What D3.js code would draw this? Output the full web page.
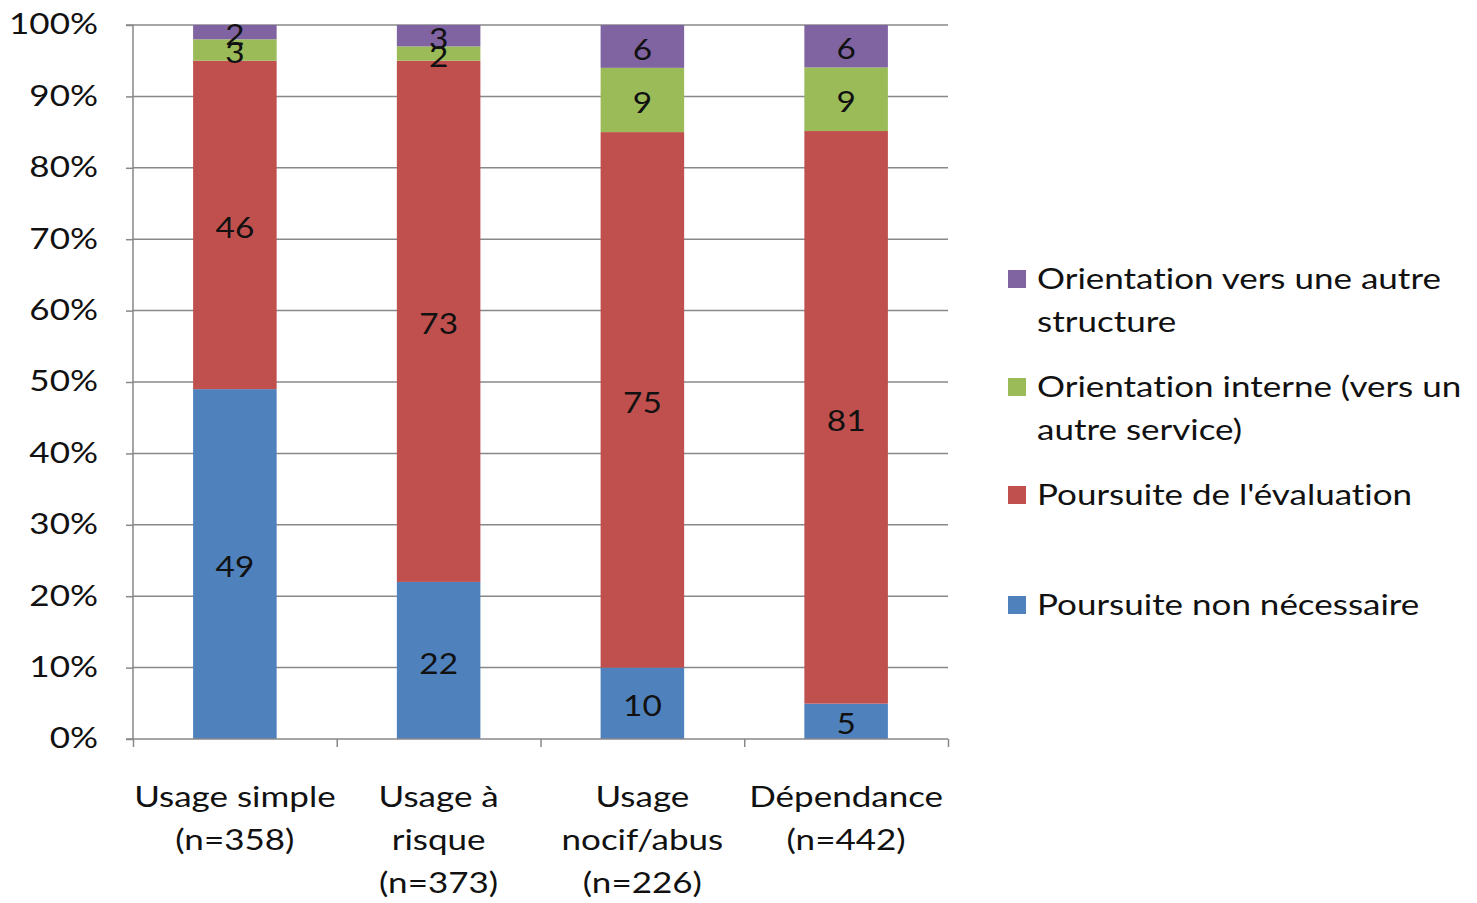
<!DOCTYPE html>
<html><head><meta charset="utf-8">
<script src="https://cdn.jsdelivr.net/npm/d3@7"></script>
<style>body{margin:0;background:#fff}svg{display:block}text{font-family:Lato,"Open Sans",sans-serif;font-variant-ligatures:none;font-feature-settings:"liga" 0}</style>
</head><body><svg id="c" width="1477" height="903"></svg>
<script>
const categories = [["Usage simple","(n=358)"],["Usage à","risque","(n=373)"],["Usage","nocif/abus","(n=226)"],["Dépendance","(n=442)"]];
const seriesNames = ["Poursuite non nécessaire","Poursuite de l'évaluation","Orientation interne (vers un autre service)","Orientation vers une autre structure"];
const nonNecessaire = [49,22,10,5];
const evaluation = [46,73,75,81];
const interne = [3,2,9,9];
const autreStructure = [2,3,6,6];
const colors = ["#4F81BD","#C0504D","#9BBB59","#8064A2"];
const yTicks = [0,0.1,0.2,0.3,0.4,0.5,0.6,0.7,0.8,0.9,1];
const legendLines = [["Orientation vers une autre","structure"],["Orientation interne (vers un","autre service)"],["Poursuite de l'évaluation"],["Poursuite non nécessaire"]];

const SX = 1.25, FS = 28;
const svg = d3.select("#c");
const m = {l:133, r:948, t:25, b:739};
const x = d3.scaleBand().domain(d3.range(categories.length)).range([m.l,m.r]).paddingInner(0.59).paddingOuter(0.295);
const y = d3.scaleLinear().domain([0,1]).range([m.b,m.t]);

svg.append("g").selectAll("line").data(yTicks.slice(1)).join("line")
  .attr("x1",m.l).attr("x2",m.r).attr("y1",d=>y(d)).attr("y2",d=>y(d))
  .attr("stroke","#888").attr("stroke-width",1.5);

const series = [nonNecessaire,evaluation,interne,autreStructure];
const rows = categories.map((c,i)=>{const o={i}; series.forEach((s,k)=>o[k]=s[i]); return o;});
const stacked = d3.stack().keys([0,1,2,3]).offset(d3.stackOffsetExpand)(rows);

const g = svg.append("g");
stacked.forEach((layer,k)=>{
  g.selectAll(null).data(layer).join("rect")
    .attr("x",d=>x(d.data.i)).attr("width",x.bandwidth())
    .attr("y",d=>y(d[1])).attr("height",d=>y(d[0])-y(d[1]))
    .attr("fill",colors[k]);
});
stacked.forEach((layer,k)=>{
  g.selectAll(null).data(layer).join("text")
    .attr("transform",d=>`translate(${x(d.data.i)+x.bandwidth()/2},${(y(d[0])+y(d[1]))/2 + 3}) scale(1.15,1)`)
    .attr("dy","0.35em").attr("text-anchor","middle").attr("font-size",FS+1).attr("fill","#111")
    .text(d=>d.data[k]);
});

const ya = svg.append("g").attr("transform",`translate(${m.l},0)`)
  .call(d3.axisLeft(y).tickValues(yTicks).tickFormat(d3.format(".0%")).tickSize(7));
ya.select(".domain").attr("stroke","#888").attr("stroke-width",1.5).attr("d",`M-7,${m.t}H0V${m.b}H-7`);
ya.selectAll(".tick line").attr("stroke","#888").attr("stroke-width",1.5);
ya.selectAll(".tick text").attr("x",null).attr("transform",`translate(-35,0) scale(${SX},1)`)
  .attr("font-size",FS).attr("fill","#111").attr("font-family","Lato");

const xb = d3.scaleLinear().domain([0,categories.length]).range([m.l,m.r]);
const xa = svg.append("g").attr("transform",`translate(0,${m.b})`)
  .call(d3.axisBottom(xb).tickValues(d3.range(categories.length+1)).tickFormat("").tickSize(8));
xa.select(".domain").attr("stroke","#888").attr("stroke-width",1.5).attr("d",`M${m.l},0H${m.r}`);
xa.selectAll(".tick line").attr("stroke","#888").attr("stroke-width",1.5);

categories.forEach((lines,i)=>{
  const t = svg.append("text").attr("transform",`translate(${x(i)+x.bandwidth()/2},0) scale(${SX},1)`)
    .attr("text-anchor","middle").attr("font-size",FS).attr("fill","#111");
  lines.forEach((ln,j)=>t.append("tspan").attr("x",0).attr("y",807+j*43).text(ln));
});

const ly = [279,387,495,605];
legendLines.forEach((lines,k)=>{
  svg.append("rect").attr("x",1008).attr("y",ly[k]-9).attr("width",18).attr("height",18).attr("fill",colors[3-k]);
  const t = svg.append("text").attr("transform",`translate(1037,0) scale(${SX},1)`).attr("font-size",FS).attr("fill","#111");
  lines.forEach((ln,j)=>t.append("tspan").attr("x",0).attr("y",ly[k]+10+j*43).text(ln));
});
</script></body></html>
